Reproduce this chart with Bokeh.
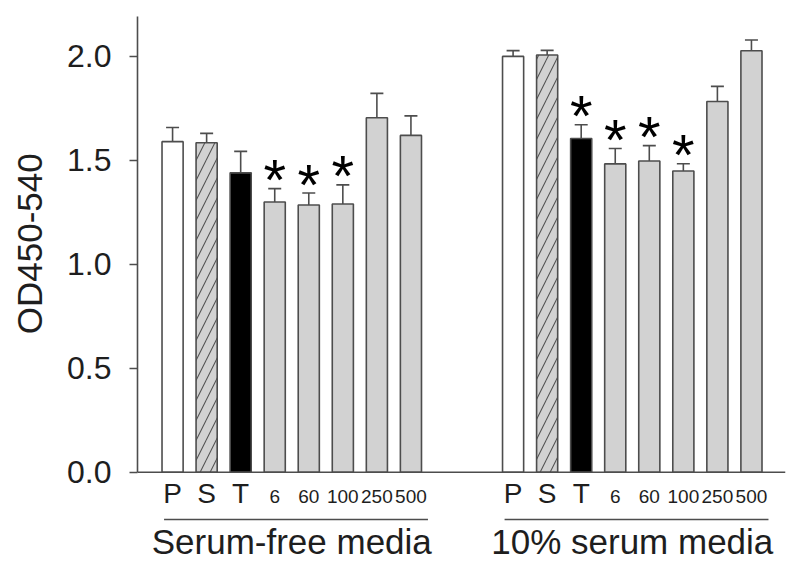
from bokeh.plotting import figure
from bokeh.models import (ColumnDataSource, Range1d, FixedTicker, PrintfTickFormatter,
                          Whisker, TeeHead, Span)
from bokeh.core.properties import value
from bokeh.embed import file_html
from bokeh.resources import INLINE

# ---------------- data ----------------
categories = ["P", "S", "T", "6", "60", "100", "250", "500"]
groups = ["Serum-free media", "10% serum media"]

serum_free_mean = [1.59, 1.585, 1.44, 1.30, 1.285, 1.29, 1.705, 1.62]
serum_free_err = [0.068, 0.045, 0.103, 0.064, 0.058, 0.092, 0.117, 0.094]
serum_free_sig = [False, False, False, True, True, True, False, False]

serum10_mean = [2.0, 2.007, 1.605, 1.483, 1.497, 1.449, 1.783, 2.027]
serum10_err = [0.028, 0.022, 0.066, 0.074, 0.074, 0.035, 0.073, 0.052]
serum10_sig = [False, False, True, True, True, True, False, False]

y_ticks = [0.0, 0.5, 1.0, 1.5, 2.0]
y_label = "OD450-540"

# ---------------- styling / layout ----------------
FONT = "Liberation Sans"
EDGE = "#4d4d4d"
TXT = "#1e1e1e"
GRAY = "#d2d2d2"
fills = {"P": "white", "S": GRAY, "T": "black"}
hatches = {"S": "/"}

W, H = 792, 562
FRAME_LEFT, FRAME_RIGHT, FRAME_TOP, FRAME_BOTTOM = 137, 785, 16, 558
ZERO_PX = 471.7            # screen row of the value 0
Y_MAX = 2.192
ppu = (ZERO_PX - FRAME_TOP) / Y_MAX        # pixels per data unit
Y_MIN = -(FRAME_BOTTOM - ZERO_PX) / ppu

def below(px):
    """data y for a row px pixels below the zero line"""
    return -px / ppu

GROUP_STEP = len(categories) + 2

x, top, upper, fill, hatch, lab, sig, lab_size, lab_y = ([] for _ in range(9))
for g, (means, errs, sigs) in enumerate([(serum_free_mean, serum_free_err, serum_free_sig),
                                        (serum10_mean, serum10_err, serum10_sig)]):
    for i, c in enumerate(categories):
        x.append(g * GROUP_STEP + i)
        top.append(means[i])
        upper.append(means[i] + errs[i])
        fill.append(fills.get(c, GRAY))
        hatch.append(hatches.get(c, " "))
        lab.append(c)
        sig.append(sigs[i])
        letter = c in ("P", "S", "T")
        lab_size.append("28px" if letter else "19px")
        lab_y.append(below(21.5 if letter else 24.5))

src = ColumnDataSource(dict(x=x, top=top, upper=upper, fill=fill, hatch=hatch,
                            lab=lab, lab_size=lab_size, lab_y=lab_y))
star_src = ColumnDataSource(dict(x=[xx for xx, s in zip(x, sig) if s],
                                 y=[u for u, s in zip(upper, sig) if s],
                                 t=["*"] * sum(sig)))

p = figure(width=W, height=H, output_backend="svg", toolbar_location=None,
           x_range=Range1d(-1.03, 18.0), y_range=Range1d(Y_MIN, Y_MAX),
           min_border_left=FRAME_LEFT, min_border_right=W - FRAME_RIGHT,
           min_border_top=FRAME_TOP, min_border_bottom=H - FRAME_BOTTOM)
p.outline_line_color = None
p.grid.visible = False
p.background_fill_color = "white"
p.xaxis.visible = False

# error bars (upper only)
wh = Whisker(source=src, base="x", lower="top", upper="upper", dimension="height",
             line_color=EDGE, line_width=1.6,
             upper_head=TeeHead(size=13, line_color=EDGE, line_width=1.6),
             lower_head=None)
p.add_layout(wh)

p.vbar(x="x", top="top", bottom=0, width=0.62, source=src,
       fill_color="fill", line_color=EDGE, line_width=1.6,
       hatch_pattern="hatch", hatch_color="#555555", hatch_scale=20, hatch_weight=1.1)

# x baseline
p.add_layout(Span(location=0, dimension="width", line_color=EDGE, line_width=1.6))

# significance stars
p.text(x="x", y="y", text="t", source=star_src, text_align="center",
       text_baseline="alphabetic", text_font=value(FONT), text_font_size="58px",
       text_color="black", y_offset=-9)

# y axis
p.yaxis.bounds = (0, Y_MAX)
p.yaxis.ticker = FixedTicker(ticks=y_ticks)
p.yaxis.formatter = PrintfTickFormatter(format="%.1f")
p.yaxis.minor_tick_line_color = None
p.yaxis.major_tick_in = 0
p.yaxis.major_tick_out = 8
p.yaxis.major_tick_line_color = EDGE
p.yaxis.major_tick_line_width = 1.5
p.yaxis.axis_line_color = EDGE
p.yaxis.axis_line_width = 1.6
p.yaxis.major_label_text_font = FONT
p.yaxis.major_label_text_font_size = "32px"
p.yaxis.major_label_text_color = TXT
p.yaxis.major_label_standoff = 18
# the axis title is centred on the whole frame; leading no-break spaces move it
# up so that it is centred on the drawn axis line
p.yaxis.axis_label = "\u00a0" * 9 + y_label
p.yaxis.axis_label_text_font = FONT
p.yaxis.axis_label_text_font_size = "35px"
p.yaxis.axis_label_text_font_style = "normal"
p.yaxis.axis_label_text_color = TXT
p.yaxis.axis_label_standoff = 15

# category labels under bars
p.text(x="x", y="lab_y", text="lab", source=src, text_align="center",
       text_baseline="middle", text_font=value(FONT),
       text_font_size="lab_size", text_color=TXT)

# group underline + group names
ux0, ux1, uy, gx, gy, gname = [], [], [], [], [], []
for g, name in enumerate(groups):
    x0 = g * GROUP_STEP - 0.25
    x1 = g * GROUP_STEP + len(categories) - 0.5
    ux0.append(x0); ux1.append(x1); uy.append(below(47.3))
    gx.append(g * GROUP_STEP + 3.5); gy.append(below(69.5)); gname.append(name)

p.segment(x0=ux0, y0=uy, x1=ux1, y1=uy, line_color=EDGE, line_width=1.6)
p.text(x=gx, y=gy, text=gname, text_align="center", text_baseline="middle",
       text_font=value(FONT), text_font_size="35px", text_color=TXT)

open("out.html", "w").write(file_html(p, INLINE))
